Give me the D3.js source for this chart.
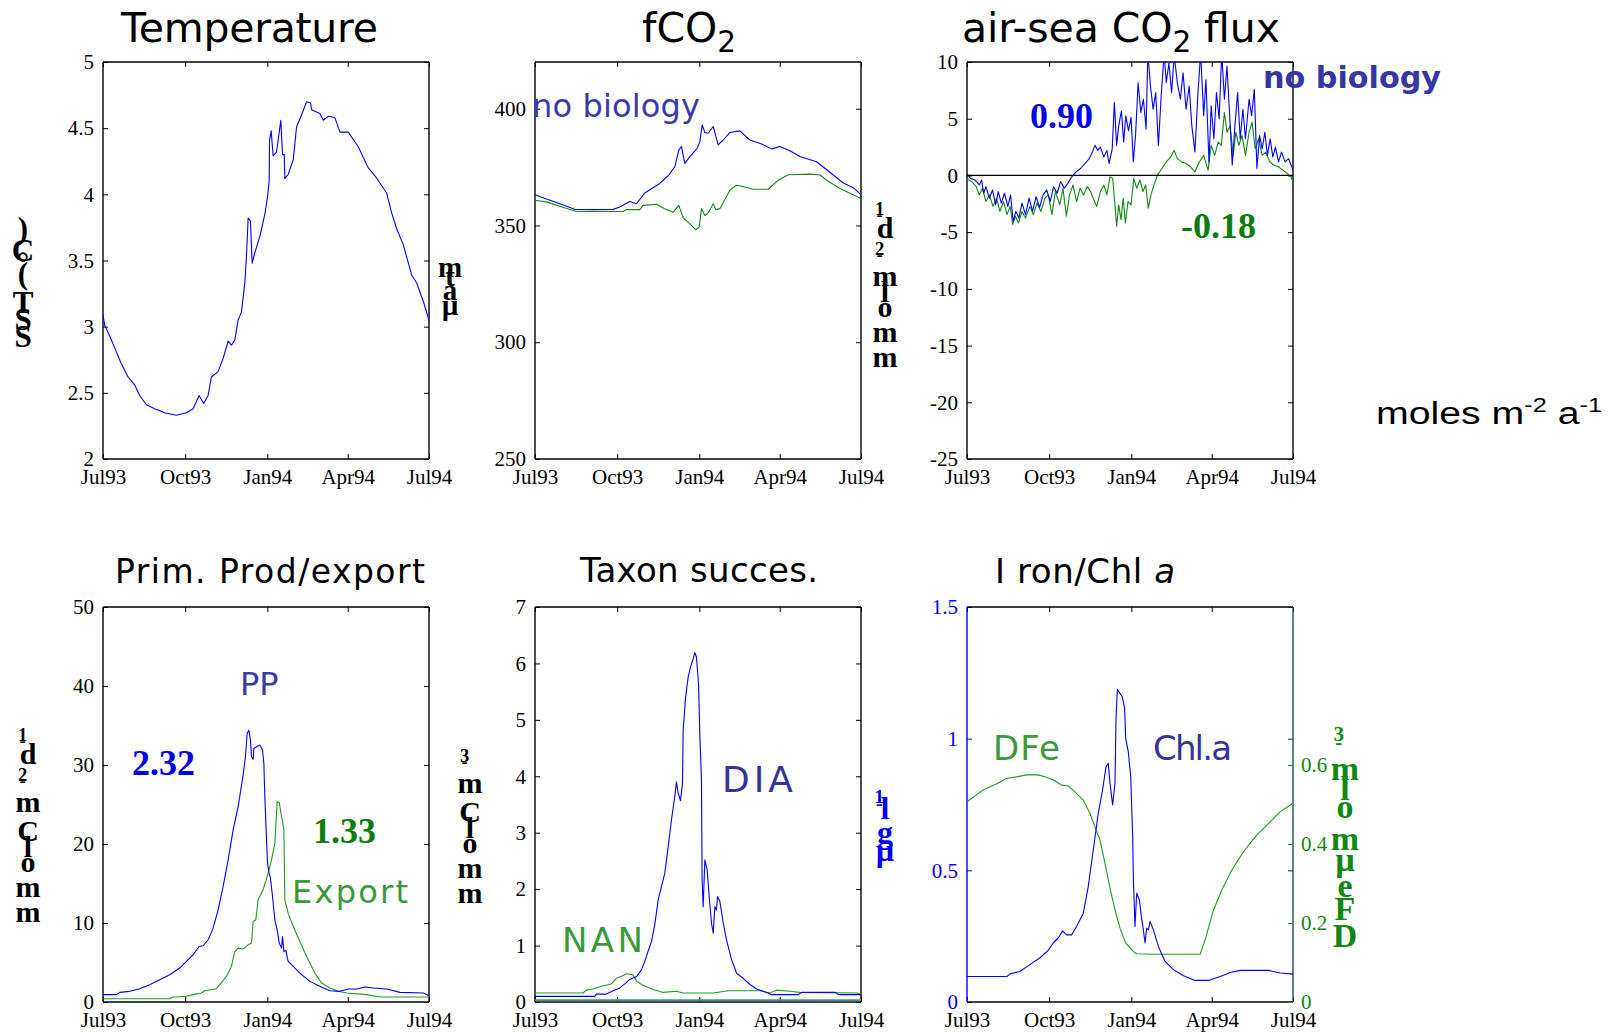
<!DOCTYPE html>
<html>
<head>
<meta charset="utf-8">
<script src="https://cdn.jsdelivr.net/npm/d3@7"></script>
<style>
  body { margin: 0; background: #fff; }
  svg { display: block; }
</style>
</head>
<body>
<svg id="chart" width="1610" height="1035"></svg>
<script>
// ---- shared time axis ----
const tickLabels = ["Jul93", "Oct93", "Jan94", "Apr94", "Jul94"];
const tickDateStrings = ["1993-07-01", "1993-10-01", "1994-01-01", "1994-04-01", "1994-07-01"];

// ---- series: [days since 1 Jul 1993, value] ----
const sst = [[0,3.09],[1.9,3.01],[7.5,2.93],[13.1,2.84],[20.5,2.72],[28,2.62],[35.5,2.56],[41.1,2.48],[48.6,2.41],[57.9,2.38],[69.1,2.35],[82.2,2.33],[93.4,2.35],[100.9,2.38],[107.6,2.48],[112.8,2.42],[117.7,2.48],[121.4,2.62],[128.9,2.66],[134.5,2.76],[140.1,2.89],[143.8,2.86],[147.6,2.90],[151.3,3.05],[155,3.11],[158.8,3.33],[160.6,3.53],[162.5,3.82],[165.1,3.80],[167,3.48],[170,3.56],[175.6,3.68],[181.2,3.85],[184.2,3.98],[186,4.10],[186.5,4.41],[188.3,4.48],[190.5,4.29],[194.3,4.32],[196.1,4.41],[199.1,4.56],[201,4.30],[202.9,4.30],[203.6,4.12],[207.3,4.15],[213,4.26],[216.7,4.51],[222.3,4.60],[227.9,4.70],[232.4,4.69],[233.5,4.64],[242.8,4.61],[246.6,4.56],[252.2,4.59],[259.6,4.58],[265.3,4.47],[274.6,4.47],[285.8,4.36],[297,4.20],[304.5,4.14],[317.6,4.01],[323.2,3.86],[328.8,3.74],[336.2,3.62],[345.6,3.39],[351.2,3.33],[358.7,3.19],[365,3.05]];

const fco2NoBio = [[0,363.2],[9,361.9],[23.9,359.8],[44.5,356.9],[65,356.8],[87.4,356.9],[94.9,357.9],[106.1,360.3],[113.6,359.3],[122.9,363.9],[139.7,368],[149.1,371.3],[156.5,375.1],[161,382.3],[164,383.8],[167.7,376.6],[173.4,379.5],[181.6,383],[184.6,385.9],[187.2,393.1],[190.2,389.8],[193.9,389.5],[199.5,392.4],[205.1,384.5],[210.7,386.6],[218.2,389.8],[229.4,390.5],[240.6,386.6],[253.7,384.9],[264.9,382.8],[274.2,383.8],[285.4,382],[296.6,379.5],[315.3,377.3],[334,371.6],[345.2,368.2],[356.4,366.2],[365,363.2]];
const fco2Bio = [[0,360.8],[12.7,360.1],[27.6,358.2],[46.3,356],[65,356],[98.6,356],[102.4,356.8],[117.3,356.8],[121,358.6],[136,359.1],[145.3,357.2],[154.7,355.7],[161,358.6],[165.9,353.3],[173.4,350.7],[180.1,348.1],[183.8,349.3],[186.4,357.2],[190.2,354.3],[193.9,355.3],[199.5,359.3],[202.5,356.8],[207,357.2],[218.2,365.1],[225.7,367.2],[231.3,366.8],[244.3,365.5],[261.1,365.5],[272.4,369.4],[283.6,371.7],[307.8,372],[319.1,371.6],[326.5,369.4],[341.5,365.8],[365,361.5]];

const fluxNoBio = [[0,0.17],[3.9,-0.26],[8.9,-0.4],[13.8,-0.84],[16.3,-0.4],[18.7,-1.57],[21.2,-0.99],[25.1,-2.0],[28.6,-1.28],[32,-2.59],[35,-1.42],[38.4,-2.44],[41.9,-1.57],[45.8,-2.73],[48.8,-1.72],[51.7,-4.04],[54.7,-3.17],[58.1,-3.75],[61.6,-2.44],[65.5,-3.46],[69.5,-2.0],[73.4,-3.17],[77.3,-1.86],[81.3,-2.82],[85.2,-1.72],[89.2,-1.28],[93.1,-2.3],[97,-0.99],[100.9,-1.57],[104.9,-0.55],[108.9,-1.13],[112.8,-0.7],[117.2,-0.12],[122.2,0.32],[127.1,0.61],[132,1.05],[136.9,1.48],[140.4,2.06],[143.3,2.65],[146.3,2.21],[149.3,2.5],[153.2,1.63],[156.6,2.21],[159.1,1.05],[162.6,2.35],[165,6.42],[167.5,2.65],[169.9,4.39],[172.9,5.7],[175.4,2.94],[177.8,5.26],[180.8,3.95],[183.7,5.12],[186.2,1.19],[188.7,3.52],[191.6,8.17],[194.6,5.55],[197.5,6.72],[200.5,4.1],[202.5,10.8],[205.4,7.88],[208.4,5.84],[211.3,7.3],[214.3,2.65],[217.2,6.72],[220.7,10.8],[223.1,8.17],[226.1,9.91],[229.1,7.3],[232,10.6],[235.5,8.17],[238.9,6.72],[241.9,9.04],[245.3,5.84],[248.8,7.88],[251.7,4.39],[255.2,2.06],[258.6,7.3],[261.6,10.8],[265,5.26],[267.5,8.46],[270.9,1.19],[273.4,6.13],[276.4,3.23],[279.3,7.3],[282.3,4.97],[285.2,10.8],[288.2,6.72],[291.1,9.62],[294.1,5.26],[297,0.9],[300,4.39],[303,7.3],[305.9,3.23],[308.9,5.84],[311.8,3.23],[315.8,6.72],[318.7,5.26],[321.7,7.59],[324.6,0.61],[327.6,3.52],[330.5,2.35],[333.5,3.81],[336.4,1.77],[339.4,3.23],[342.4,1.63],[345.3,2.5],[348.8,1.19],[352.2,2.06],[356.1,1.19],[360.1,1.48],[365,0.47]];
const fluxBio = [[0,-0.26],[5.4,-0.55],[10.3,-0.99],[13.8,-1.72],[17.2,-1.13],[21.2,-2.3],[25.1,-1.72],[29.1,-2.73],[33,-2.0],[36.9,-3.17],[40.9,-2.3],[44.8,-3.46],[48.3,-2.73],[51.2,-4.33],[54.2,-3.6],[57.6,-4.19],[61.6,-3.17],[65.5,-3.75],[70.4,-2.73],[74.4,-3.46],[78.3,-2.44],[82.8,-3.17],[87.2,-2.0],[91.1,-1.72],[95.1,-3.46],[99,-1.42],[103.9,-2.59],[107.4,-1.13],[111.3,-3.6],[114.8,-1.72],[118.7,-0.84],[122.7,-2.3],[126.6,-1.13],[130.5,-1.72],[134.5,-0.99],[138.4,-1.42],[141.9,-2.15],[145.3,-2.73],[149.3,-1.42],[153.2,-0.84],[156.6,-1.72],[160.1,-0.12],[163.1,-0.26],[165,-2.0],[167.5,-4.48],[169.9,-2.59],[172.4,-3.9],[174.9,-2.0],[177.3,-4.19],[180.3,-2.3],[183.7,-2.59],[186.7,-0.26],[190.1,-1.13],[193.6,-0.4],[197,-1.42],[200,-0.84],[203,-2.88],[205.9,-1.72],[209.4,-0.84],[213.3,0.03],[218.2,0.61],[223.1,1.19],[228.1,1.63],[232,2.21],[235.5,1.48],[240.4,1.19],[245.3,1.05],[250.2,0.76],[255.2,0.32],[260.1,1.19],[265,1.77],[269.9,0.47],[273.4,2.65],[277.3,1.77],[281.3,2.94],[284.7,2.65],[288.2,5.55],[291.1,3.81],[294.6,4.39],[298,1.77],[301,3.81],[304.4,2.65],[307.9,3.52],[311.8,1.77],[315.8,3.81],[319.2,4.68],[322.7,2.35],[326.6,3.23],[330.5,1.77],[334.5,2.06],[338.9,1.19],[343.8,0.9],[348.8,0.76],[353.7,0.47],[358.6,0.17],[362.6,-0.12],[365,-0.55]];

const primProd = [[0,0.93],[14.9,0.93],[18.7,1.22],[29.9,1.35],[41.1,1.68],[52.3,2.19],[63.5,2.82],[74.7,3.45],[85.9,4.3],[93.4,5.14],[100.9,5.98],[107.6,7.03],[112.1,7.12],[117.7,7.88],[123.3,9.35],[128.9,11.67],[134.5,14.62],[140.1,17.99],[145.7,21.78],[151.3,24.73],[156.9,28.73],[159.5,31.04],[161.4,33.99],[163.3,34.41],[165.1,33.15],[166.3,31.04],[168.1,30.71],[168.9,32.1],[171.9,32.31],[175.6,32.52],[178.6,31.89],[180.1,30.2],[181.2,25.99],[183.1,20.51],[184.2,17.57],[186,16.3],[187.5,15.67],[189.8,13.35],[192.4,10.4],[195,9.14],[197.3,7.46],[199.9,6.82],[201,8.3],[202.5,6.4],[204.7,6.53],[207.3,5.14],[213,4.51],[220.4,3.66],[231.6,2.61],[242.8,1.98],[254,1.43],[265.3,1.35],[274.6,1.64],[283.9,1.64],[293.3,1.9],[302.6,1.77],[317.6,1.64],[332.5,1.22],[358.7,1.14],[365,0.8]];
const exportProd = [[0,0.42],[74.7,0.42],[78.5,0.63],[93.4,0.72],[100.9,0.93],[110.2,1.14],[113.9,1.43],[127,1.68],[130.8,2.19],[138.2,3.24],[143.8,4.51],[147.6,6.4],[151.3,6.82],[156.9,6.7],[162.5,7.25],[166.3,7.46],[168.1,10.19],[171.1,10.4],[173.7,12.93],[179.3,14.2],[184.9,16.3],[188.7,17.99],[192.4,20.09],[195,25.36],[197.3,25.23],[199.9,23.46],[202.5,21.78],[203.6,12.93],[207.3,11.25],[213,9.56],[220.4,7.67],[227.9,5.77],[237.2,3.66],[244.7,2.4],[254,1.77],[263.4,1.35],[272.7,1.14],[295.1,0.93],[310.1,0.63],[332.5,0.63],[365,0.63]];

const diatoms = [[0,0.1],[66.9,0.1],[68.7,0.14],[80,0.14],[87.4,0.2],[94.9,0.25],[100.5,0.32],[106.1,0.4],[113.6,0.45],[119.2,0.57],[122.9,0.72],[126.6,0.9],[130.4,1.07],[134.1,1.37],[137.9,1.81],[141.6,2.05],[145.3,2.28],[149.1,2.75],[152.8,3.23],[156.5,3.64],[158.4,3.9],[160.3,3.7],[162.9,3.57],[165.1,3.87],[165.9,4.82],[168.5,5.38],[171.5,5.76],[174.1,5.94],[177.1,6.08],[178.9,6.19],[180.8,6.11],[183.1,5.64],[184.6,4.7],[186.4,3.93],[187.1,2.16],[188.3,1.69],[190.2,2.52],[192.8,2.34],[195,1.87],[197.6,1.4],[199.5,1.22],[201.4,1.69],[203.2,1.63],[204.4,1.87],[207,1.78],[210.8,1.4],[214.4,1.1],[220.1,0.75],[225.7,0.51],[233.1,0.42],[240.6,0.31],[248.1,0.23],[259.3,0.17],[264.9,0.13],[294.8,0.13],[298.5,0.17],[335.9,0.17],[339.6,0.13],[365,0.13]];
const nanoflag = [[0,0.16],[53.8,0.16],[57.5,0.21],[65,0.23],[74.3,0.28],[85.6,0.32],[91.2,0.42],[98.6,0.47],[102.4,0.5],[109.8,0.48],[113.6,0.37],[119.2,0.31],[132.3,0.22],[143.5,0.17],[158.4,0.19],[165.9,0.16],[199.5,0.16],[216.3,0.2],[251.8,0.2],[263,0.16],[270.5,0.21],[285.4,0.19],[296.6,0.17],[360.1,0.16],[365,0.13]];
const otherTaxa = [[0,0.03],[365,0.03]];

const chla = [[0,0.097],[44.9,0.097],[47.9,0.106],[59.1,0.116],[70.3,0.142],[81.5,0.167],[90.9,0.196],[96.5,0.224],[102.1,0.243],[107,0.27],[111.5,0.255],[117.1,0.255],[122.7,0.287],[130.2,0.337],[135.8,0.439],[141.4,0.578],[147,0.717],[151.8,0.805],[155.6,0.893],[158.2,0.906],[160.1,0.831],[163.1,0.748],[165.7,0.831],[166.8,1.071],[168.3,1.187],[171.3,1.172],[173.9,1.159],[176.5,1.115],[177.7,1.001],[180.6,0.95],[183.3,0.856],[185.5,0.628],[186.3,0.464],[188.1,0.287],[190,0.413],[193,0.388],[195.2,0.325],[197.5,0.274],[199.3,0.224],[201.2,0.281],[203.1,0.274],[205,0.306],[208.7,0.274],[214.3,0.211],[221.8,0.154],[231.1,0.123],[242.4,0.1],[255.4,0.082],[270.4,0.082],[283.5,0.097],[294.7,0.112],[305.9,0.12],[337.7,0.12],[350.8,0.11],[365,0.106]];
const dissolvedFe = [[0,0.507],[18,0.537],[32.9,0.552],[44.1,0.566],[55.4,0.57],[66.6,0.575],[79.7,0.575],[89,0.569],[98.4,0.56],[105.8,0.549],[113.3,0.547],[120.8,0.532],[130.2,0.511],[137.6,0.478],[143.2,0.444],[148.9,0.41],[154.5,0.351],[160.1,0.288],[165.7,0.233],[171.3,0.187],[177.7,0.149],[186.3,0.128],[190,0.122],[208.7,0.121],[261.1,0.121],[266.7,0.158],[276,0.233],[285.4,0.284],[296.6,0.334],[309.7,0.381],[324.6,0.423],[337.7,0.452],[350.8,0.482],[365,0.503]];

// ---- y tick values ----
const sstTicks = [2, 2.5, 3, 3.5, 4, 4.5, 5];
const fco2Ticks = [250, 300, 350, 400];
const fluxTicks = [-25, -20, -15, -10, -5, 0, 5, 10];
const ppTicks = [0, 10, 20, 30, 40, 50];
const taxonTicks = [0, 1, 2, 3, 4, 5, 6, 7];
const chlaTicks = [0, 0.5, 1, 1.5];
const feTicks = [0, 0.2, 0.4, 0.6];

// ---- drawing ----
const svg = d3.select("#chart");
const parseDay = d3.timeParse("%Y-%m-%d");
const tickDates = tickDateStrings.map(parseDay);
const start = tickDates[0], end = tickDates[tickDates.length - 1];
const toDate = d => new Date(start.getTime() + d * 86400000);

const SERIF = "'Liberation Serif', 'Times New Roman', serif";
const SANS = "'DejaVu Sans', Verdana, sans-serif";
const BLUE = "#0000ff", GREEN = "#118811";
let clipCount = 0;

function makePanel(box, yDomain, yTicks, opt = {}) {
  const g = svg.append("g");
  const x = d3.scaleTime().domain([start, end]).range([box.x0, box.x1]);
  const y = d3.scaleLinear().domain(yDomain).range([box.y1, box.y0]);
  const clipId = "plotclip" + (clipCount++);
  svg.append("clipPath").attr("id", clipId).append("rect")
    .attr("x", box.x0).attr("y", box.y0)
    .attr("width", box.x1 - box.x0).attr("height", box.y1 - box.y0);

  const styleAxis = (sel, color) => {
    sel.select(".domain").remove();
    sel.attr("font-size", null).attr("font-family", null);
    sel.selectAll("line").attr("stroke", color || "#000").attr("stroke-width", 1);
    sel.selectAll("text").attr("font-family", SERIF).attr("font-size", 21)
      .attr("fill", color || "#000");
  };
  const fmt = d => String(d);

  g.append("g").attr("transform", `translate(0,${box.y1})`)
    .call(d3.axisBottom(x).tickValues(tickDates).tickSize(-5).tickPadding(10)
      .tickFormat((d, i) => tickLabels[i]))
    .call(styleAxis);
  g.append("g").attr("transform", `translate(0,${box.y0})`)
    .call(d3.axisTop(x).tickValues(tickDates).tickSize(-5).tickFormat(""))
    .call(styleAxis);
  g.append("g").attr("transform", `translate(${box.x0},0)`)
    .call(d3.axisLeft(y).tickValues(yTicks).tickSize(-5).tickPadding(9).tickFormat(fmt))
    .call(s => styleAxis(s, opt.leftColor));
  g.append("g").attr("transform", `translate(${box.x1},0)`)
    .call(d3.axisRight(y).tickValues(yTicks).tickSize(-5).tickFormat(""))
    .call(s => styleAxis(s, opt.leftColor));

  // frame
  const side = (x1, y1, x2, y2, c) => g.append("line")
    .attr("x1", x1).attr("y1", y1).attr("x2", x2).attr("y2", y2)
    .attr("stroke", c).attr("stroke-width", 1.4);
  side(box.x0, box.y0, box.x1, box.y0, "#000");
  side(box.x0, box.y1, box.x1, box.y1, "#000");
  side(box.x0, box.y0, box.x0, box.y1, opt.leftColor || "#000");
  side(box.x1, box.y0, box.x1, box.y1, opt.rightColor || "#000");

  const plot = g.append("g").attr("clip-path", `url(#${clipId})`);
  const draw = (data, color, scale, width) => plot.append("path")
    .datum(data)
    .attr("fill", "none").attr("stroke", color).attr("stroke-width", width || 1.1)
    .attr("stroke-linejoin", "round")
    .attr("d", d3.line().x(d => x(toDate(d[0]))).y(d => (scale || y)(d[1])));
  return { g, x, y, box, draw, plot };
}

function text(x, y, str, o = {}) {
  const t = svg.append("text").attr("x", x).attr("y", y)
    .attr("font-family", o.family || SANS).attr("font-size", o.size || 32)
    .attr("fill", o.color || "#000").text(str);
  if (o.weight) t.attr("font-weight", o.weight);
  if (o.length) t.attr("textLength", o.length).attr("lengthAdjust", o.adjust || "spacing");
  if (o.anchor) t.attr("text-anchor", o.anchor);
  return t;
}

// title with optional subscript / italic pieces
function title(x, y, parts, size, length) {
  const t = svg.append("text").attr("x", x).attr("y", y)
    .attr("font-family", SANS).attr("font-size", size).attr("fill", "#000");
  parts.forEach(p => {
    const s = t.append("tspan").text(p.t);
    if (p.sub) s.attr("font-size", size * 0.72).attr("dy", size * 0.25);
    if (p.after) s.attr("dy", -size * 0.25);
    if (p.italic) s.attr("font-style", "italic");
  });
  if (length) t.attr("textLength", length).attr("lengthAdjust", "spacing");
  return t;
}

// unit label: glyphs advance upward but stay upright
const measurer = svg.append("text").attr("font-family", SERIF).attr("font-weight", "bold")
  .attr("visibility", "hidden");
function glyphAdvance(ch, size) {
  measurer.attr("font-size", size).text(ch === " " ? "\u00a0" : ch);
  return measurer.node().getComputedTextLength();
}
function stackedUnit(cx, yBase, parts, size, color, squeeze = 1) {
  const g = svg.append("g");
  let offset = 0;
  parts.forEach(p => {
    const fs = p.sup ? size * 0.62 : size;
    for (const ch of p.t) {
      if (ch !== " ") {
        g.append("text")
          .attr("x", cx - (p.sup ? size * 0.18 : 0)).attr("y", yBase - offset)
          .attr("text-anchor", "middle")
          .attr("font-family", SERIF).attr("font-weight", "bold")
          .attr("font-size", fs).attr("fill", color).text(ch);
      }
      offset += glyphAdvance(ch, fs) * squeeze;
    }
  });
}

// ---- panel frames ----
const col = [[103, 429], [535, 861], [967, 1293]];
const rowTop = [62, 459], rowBot = [607, 1002];
const B = (c, r) => ({ x0: col[c][0], x1: col[c][1], y0: r[0], y1: r[1] });

// Temperature
const p1 = makePanel(B(0, rowTop), [2, 5], sstTicks);
p1.draw(sst, BLUE);
title(121, 42, [{ t: "Temperature" }], 41, 257);
stackedUnit(23, 347, [{ t: "SST (°C)" }], 31, "#000");
stackedUnit(450, 315, [{ t: "µatm" }], 29, "#000", 0.92);

// fCO2
const p2 = makePanel(B(1, rowTop), [250, 420], fco2Ticks);
p2.draw(fco2NoBio, BLUE);
p2.draw(fco2Bio, GREEN);
title(642, 42, [{ t: "fCO" }, { t: "2", sub: true }], 41);
text(532, 117, "no biology", { size: 32, color: "#3a3aab", length: 168 });
stackedUnit(885, 367, [{ t: "mmol m" }, { t: "-2", sup: true }, { t: " d" }, { t: "-1", sup: true }], 30, "#000");

// air-sea CO2 flux
const p3 = makePanel(B(2, rowTop), [-25, 10], fluxTicks);
p3.g.append("line").attr("x1", p3.box.x0).attr("x2", p3.box.x1)
  .attr("y1", p3.y(0)).attr("y2", p3.y(0)).attr("stroke", "#000").attr("stroke-width", 1.2);
p3.draw(fluxBio, GREEN);
p3.draw(fluxNoBio, BLUE);
title(962, 42, [{ t: "air-sea CO" }, { t: "2", sub: true }, { t: " flux", after: true }], 41, 318);
text(1030, 128, "0.90", { family: SERIF, weight: "bold", size: 36, color: "#0000ee" });
text(1181, 238, "-0.18", { family: SERIF, weight: "bold", size: 36, color: "#0c7d0c" });
text(1263, 88, "no  biology", { weight: "bold", size: 31, color: "#3535a6", length: 178, adjust: "spacingAndGlyphs" });
(function () {
  const t = svg.append("text").attr("x", 1376).attr("y", 424)
    .attr("font-family", "'Liberation Sans', Arial, sans-serif").attr("font-size", 31).attr("fill", "#000");
  t.append("tspan").text("moles  m");
  t.append("tspan").attr("font-size", 20).attr("dy", -12).text("-2");
  t.append("tspan").attr("dy", 12).text(" a");
  t.append("tspan").attr("font-size", 20).attr("dy", -12).text("-1");
  t.attr("textLength", 226).attr("lengthAdjust", "spacingAndGlyphs");
})();

// Primary production / export
const p4 = makePanel(B(0, rowBot), [0, 50], ppTicks);
p4.draw(exportProd, "#229922");
p4.draw(primProd, BLUE);
title(115, 583, [{ t: "Prim. Prod/export" }], 33, 310);
text(240, 695, "PP", { size: 32, color: "#3a3aab" });
text(132, 775, "2.32", { family: SERIF, weight: "bold", size: 36, color: "#0000ee" });
text(313, 843, "1.33", { family: SERIF, weight: "bold", size: 36, color: "#0c7d0c" });
text(292, 903, "Export", { size: 32, color: "#3a9a3a", length: 116 });
stackedUnit(28, 922, [{ t: "mmol C m" }, { t: "-2", sup: true }, { t: " d" }, { t: "-1", sup: true }], 30, "#000");

// Taxon succession
const p5 = makePanel(B(1, rowBot), [0, 7], taxonTicks);
p5.draw(otherTaxa, "#4e8c8c", null, 2);
p5.draw(nanoflag, "#229922");
p5.draw(diatoms, BLUE);
title(580, 582, [{ t: "Taxon succes." }], 34, 238);
text(722, 792, "DIA", { size: 36, color: "#333399", length: 71 });
text(562, 952, "NAN", { size: 34, color: "#3a9a3a", length: 81 });
stackedUnit(470, 903, [{ t: "mmol C m" }, { t: "-3", sup: true }], 30, "#000");
stackedUnit(885, 861, [{ t: "µg l" }, { t: "-1", sup: true }], 32, BLUE, 1.0);

// Iron / Chl a (two y scales)
const p6 = makePanel(B(2, rowBot), [0, 1.5], chlaTicks, { leftColor: BLUE, rightColor: "#1d4d63" });
const yFe = d3.scaleLinear().domain([0, 1]).range([p6.box.y1, p6.box.y0]);
const feAxis = p6.g.append("g").attr("transform", `translate(${p6.box.x1},0)`)
  .call(d3.axisRight(yFe).tickValues(feTicks).tickSize(5).tickPadding(3).tickFormat(d => String(d)));
feAxis.select(".domain").remove();
feAxis.attr("font-size", null).attr("font-family", null);
feAxis.selectAll("line").attr("x2", -5).attr("stroke", "#118811");
feAxis.selectAll("text").attr("font-family", SERIF).attr("font-size", 21).attr("fill", "#118811");
p6.draw(dissolvedFe, "#229922", yFe);
p6.draw(chla, BLUE);
title(995, 583, [{ t: "I ron/Chl " }, { t: "a", italic: true }], 34, 180);
text(993, 760, "DFe", { size: 34, color: "#3a9a3a", length: 67 });
text(1153, 760, "Chl.a", { size: 34, color: "#333399", length: 79 });
stackedUnit(1345, 947, [{ t: "DFe µmol m" }, { t: "-3", sup: true }], 34, "#118811", 1.1);
</script>
</body>
</html>
